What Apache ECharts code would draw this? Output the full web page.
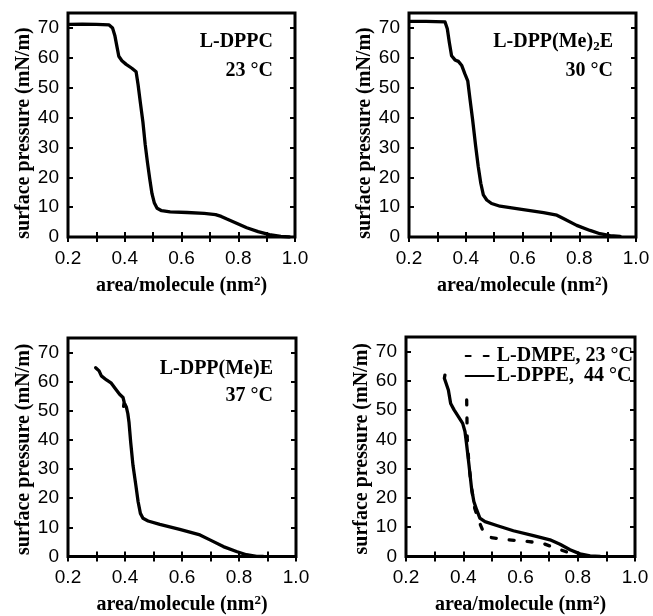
<!DOCTYPE html>
<html><head><meta charset="utf-8">
<script src="https://cdn.jsdelivr.net/npm/echarts@6/dist/echarts.min.js"></script>
<style>html,body{margin:0;padding:0;background:#fff}#c{width:653px;height:616px}</style>
</head><body><div id="c"></div>
<script>
// ---- data ----
const xTickLabels = ['0.2','0.4','0.6','0.8','1.0'];
const yTickLabels = ['0','10','20','30','40','50','60','70'];

const dppc = [[0.205,71.2],[0.25,71.3],[0.30,71.2],[0.345,71.0],[0.357,70.0],[0.365,67.5],[0.372,64],[0.379,60.5],[0.39,59],[0.405,57.8],[0.425,56.5],[0.44,55.3],[0.447,51],[0.455,45],[0.464,38.5],[0.472,31],[0.48,25],[0.488,19.5],[0.496,14.5],[0.504,11.5],[0.514,9.6],[0.53,8.8],[0.56,8.4],[0.62,8.2],[0.68,7.9],[0.72,7.5],[0.74,6.9],[0.76,6.0],[0.79,4.8],[0.83,3.1],[0.87,1.8],[0.91,0.8],[0.95,0.2],[0.98,0]];

const dppMe2E = [[0.205,72.2],[0.26,72.2],[0.327,72.0],[0.335,69.7],[0.342,65.2],[0.35,60.7],[0.362,59.3],[0.374,58.8],[0.386,57.4],[0.397,54.6],[0.407,52.3],[0.415,46.1],[0.424,39.4],[0.435,30.4],[0.444,23.6],[0.453,18],[0.462,14.1],[0.474,12.4],[0.491,11.2],[0.521,10.3],[0.591,9.3],[0.674,8.2],[0.721,7.3],[0.744,6.2],[0.791,3.9],[0.838,2.2],[0.873,1.1],[0.909,0.45],[0.944,0.2]];

const dppMeE = [[0.297,64.8],[0.309,63.7],[0.317,62],[0.335,60.6],[0.352,59.5],[0.367,57.5],[0.381,55.7],[0.393,54.6],[0.397,53.0],[0.395,51.5],[0.399,52.4],[0.405,51.2],[0.41,49],[0.414,46.1],[0.42,39.2],[0.428,31.3],[0.438,24.5],[0.446,18.8],[0.454,14.8],[0.463,13.1],[0.481,12.2],[0.522,11],[0.592,9.3],[0.663,7.4],[0.698,5.7],[0.745,3.4],[0.791,1.7],[0.826,0.6],[0.862,0.05],[0.885,0]];

const dppe = [[0.336,62],[0.334,60.9],[0.34,59.2],[0.348,56.9],[0.356,52.3],[0.368,50.1],[0.383,47.8],[0.398,45.5],[0.406,42.7],[0.412,38.1],[0.42,31.3],[0.429,23.3],[0.437,18.8],[0.447,15.9],[0.458,13.1],[0.476,11.9],[0.517,10.6],[0.575,8.8],[0.645,7.1],[0.703,5.7],[0.738,4.2],[0.773,2.3],[0.808,0.9],[0.843,0.2],[0.878,0]];

const dmpe = [[0.412,53.5],[0.413,47],[0.414,40],[0.42,31.3],[0.429,23.3],[0.44,16.5],[0.455,12],[0.47,8.5],[0.49,6.6],[0.53,6.0],[0.58,5.5],[0.63,5.1],[0.68,4.4],[0.72,3.0],[0.76,1.6],[0.80,0.6],[0.84,0]];

const annotations = [
  ['L-DPPC','23 °C'],
  ['{t|L-DPP(Me)}{s|2}{t|E}','30 °C'],
  ['L-DPP(Me)E','37 °C']
];
const legendNames = ['L-DMPE, 23 °C','L-DPPE,  44 °C'];

// ---- layout ----
const grids = [
  {left:68, top:13, width:227, height:224},
  {left:409, top:13, width:227, height:224},
  {left:68, top:338, width:228, height:220},
  {left:406, top:337, width:229, height:221}
];
const SERIF = '"Liberation Serif","Times New Roman",serif';
const SANS = '"Liberation Sans",Arial,sans-serif';

const tick = {show:true, inside:true, length:5, lineStyle:{color:'#000', width:2}};
const minor = {show:true, splitNumber:2, length:5, lineStyle:{color:'#000', width:2}};

const xAxes = [], yAxes = [];
grids.forEach((g, i) => {
  xAxes.push({
    gridIndex:i, type:'value', min:0.2, max:1.0, interval:0.2, position:'bottom',
    axisLine:{show:false}, axisTick:tick, minorTick:minor, splitLine:{show:false},
    axisLabel:{color:'#000', fontFamily:SANS, fontSize:19, margin:12,
      formatter: v => xTickLabels[Math.round((v-0.2)/0.2)] || ''},
    name:'{a|area/molecule (nm}{s|2}{a|)}', nameLocation:'middle', nameGap:38,
    nameTextStyle:{rich:{
      a:{fontFamily:SERIF, fontWeight:'bold', fontSize:20, color:'#000'},
      s:{fontFamily:SERIF, fontWeight:'bold', fontSize:13, color:'#000', verticalAlign:'top', padding:[0,0,8,0]}
    }}
  });
  xAxes.push({
    gridIndex:i, type:'value', min:0.2, max:1.0, interval:0.2, position:'top',
    axisLine:{show:false}, axisTick:tick, minorTick:minor, splitLine:{show:false},
    axisLabel:{show:false}
  });
  yAxes.push({
    gridIndex:i, type:'value', min:0, max:75, interval:10, position:'left',
    axisLine:{show:false}, axisTick:tick, splitLine:{show:false},
    axisLabel:{color:'#000', fontFamily:SANS, fontSize:19, margin:9, showMaxLabel:false,
      formatter: v => yTickLabels[Math.round(v/10)] || ''},
    name:'surface pressure (mN/m)', nameLocation:'middle', nameGap:32,
    nameTextStyle:{fontFamily:SERIF, fontWeight:'bold', fontSize:20, color:'#000',
      padding: i < 2 ? [0,16,0,0] : [0,4,0,0]}
  });
  yAxes.push({
    gridIndex:i, type:'value', min:0, max:75, interval:10, position:'right',
    axisLine:{show:false}, axisTick:tick, splitLine:{show:false},
    axisLabel:{show:false}
  });
});

function line(name, data, idx, dash) {
  return {
    name, type:'line', data, xAxisIndex:idx*2, yAxisIndex:idx*2,
    showSymbol:false, symbol:'none', smooth:false, z: dash ? 2 : 3,
    lineStyle:{color:'#000', width:3.3, type: dash ? [5,13] : 'solid', cap:'round', join:'round'},
    itemStyle:{color:'#000'}
  };
}

const annPos = [
  {x:273, y1:43, y2:72},
  {x:613, y1:43, y2:72},
  {x:273, y1:370, y2:397}
];
const graphics = [];
annotations.forEach((a, i) => {
  const p = annPos[i];
  graphics.push({type:'text', right:653-p.x, top:p.y1-11, style:{
    text:a[0], fill:'#000', font:'bold 20px '+SERIF,
    rich:{t:{fontFamily:SERIF, fontWeight:'bold', fontSize:20, fill:'#000'},
          s:{fontFamily:SERIF, fontWeight:'bold', fontSize:13, fill:'#000', verticalAlign:'bottom', padding:[10,0,0,0]}}
  }});
  graphics.push({type:'text', right:653-p.x, top:p.y2-11, style:{
    text:a[1], fill:'#000', font:'bold 20px '+SERIF}});
});

const option = {
  backgroundColor:'#fff',
  animation:false,
  grid: grids.map(g => Object.assign({show:true, borderColor:'#000', borderWidth:3, backgroundColor:'transparent'}, g)),
  xAxis:xAxes, yAxis:yAxes,
  legend:{
    data:legendNames, orient:'vertical', right:20, top:346, padding:0, itemGap:0,
    itemWidth:28, itemHeight:14, align:'left',
    itemStyle:{opacity:0},
    textStyle:{fontFamily:SERIF, fontWeight:'bold', fontSize:20, color:'#000', padding:[0,0,0,-2]}
  },
  graphic:graphics,
  series:[
    line('L-DPPC', dppc, 0),
    line('L-DPP(Me)2E', dppMe2E, 1),
    line('L-DPP(Me)E', dppMeE, 2),
    line(legendNames[0], dmpe, 3, true),
    line(legendNames[1], dppe, 3)
  ]
};
echarts.init(document.getElementById('c'), null, {renderer:'canvas'}).setOption(option);
</script></body></html>
